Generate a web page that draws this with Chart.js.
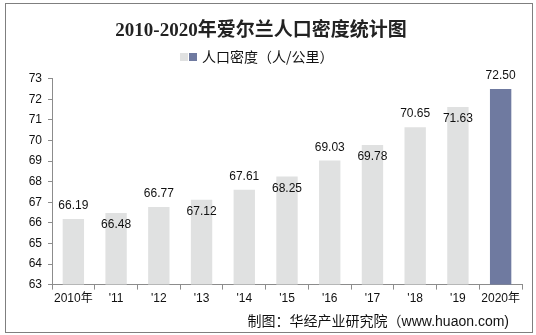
<!DOCTYPE html>
<html lang="zh">
<head>
<meta charset="UTF-8">
<title>2010-2020年爱尔兰人口密度统计图</title>
<script src="https://cdn.jsdelivr.net/npm/chart.js"></script>
<style>
  html, body { margin: 0; padding: 0; background: #fff; }
  #wrap { position: absolute; left: 0; top: 0; width: 536px; height: 335px; }
  #frame { position: absolute; left: 5px; top: 3px; width: 526px; height: 328px;
           border: 1px solid #7f7f7f; pointer-events: none; }
</style>
</head>
<body>
<div id="wrap"><canvas id="chart"></canvas></div>
<div id="frame"></div>
<script>
// data
const years = ["2010年", "'11", "'12", "'13", "'14", "'15", "'16", "'17", "'18", "'19", "2020年"];
const density = [66.19, 66.48, 66.77, 67.12, 67.61, 68.25, 69.03, 69.78, 70.65, 71.63, 72.50];
const seriesName = "人口密度（人/公里）";
const sourceNote = "制图：华经产业研究院（www.huaon.com)";

const grey = "#e0e1e1";
const blue = "#6f7aa0";
const barColors = density.map((_, i) => i === density.length - 1 ? blue : grey);

// values above / just under the top of the bars, alternating
const valueLabels = {
  id: "valueLabels",
  afterDatasetsDraw(chart) {
    const ctx = chart.ctx;
    const meta = chart.getDatasetMeta(0);
    ctx.save();
    ctx.font = "12px 'Liberation Sans', Arial, sans-serif";
    ctx.fillStyle = "#111";
    ctx.textAlign = "center";
    ctx.textBaseline = "middle";
    meta.data.forEach((bar, i) => {
      const y = i % 2 === 0 ? bar.y - 13 : bar.y + 12;
      ctx.fillText(density[i].toFixed(2), bar.x, y);
    });
    ctx.restore();
  }
};

// legend (two swatches + name) and source line
const notes = {
  id: "notes",
  afterDraw(chart) {
    const ctx = chart.ctx;
    ctx.save();
    ctx.fillStyle = grey;
    ctx.fillRect(180, 53, 8, 8);
    ctx.fillStyle = blue;
    ctx.fillRect(189, 53, 8, 8);
    ctx.fillStyle = "#111";
    ctx.font = "14px 'Noto Sans CJK SC', sans-serif";
    ctx.textBaseline = "middle";
    ctx.textAlign = "left";
    ctx.fillText(seriesName, 202, 57);
    ctx.font = "14px 'Liberation Sans', 'Noto Sans CJK SC', sans-serif";
    ctx.textAlign = "right";
    ctx.fillText(sourceNote, 509, 322);
    ctx.restore();
  }
};

new Chart(document.getElementById("chart"), {
  type: "bar",
  data: {
    labels: years,
    datasets: [{
      label: seriesName,
      data: density,
      backgroundColor: barColors,
      borderWidth: 0,
      categoryPercentage: 1,
      barPercentage: 0.5
    }]
  },
  options: {
    responsive: true,
    maintainAspectRatio: false,
    animation: false,
    layout: { padding: { top: 6, right: 14, bottom: 27, left: 0 } },
    scales: {
      x: {
        grid: { drawOnChartArea: false, tickLength: 5, color: "#8c8c8c", offset: true },
        border: { color: "#8c8c8c" },
        ticks: { color: "#111", font: { size: 12, family: "'Liberation Sans', 'Noto Sans CJK SC', sans-serif" }, padding: 2, maxRotation: 0, autoSkip: false }
      },
      y: {
        min: 63, max: 73,
        afterFit(scale) { scale.width = 52; },
        grid: { drawOnChartArea: false, tickLength: 4, color: "#8c8c8c" },
        border: { color: "#8c8c8c" },
        ticks: { stepSize: 1, color: "#111", font: { size: 12, family: "'Liberation Sans', Arial, sans-serif" }, padding: 6 }
      }
    },
    plugins: {
      title: {
        display: true,
        text: "2010-2020年爱尔兰人口密度统计图",
        color: "#222",
        font: { size: 19, weight: "bold", family: "'Liberation Serif', 'Noto Sans CJK SC', serif" },
        padding: { top: 14, bottom: 36 }
      },
      legend: { display: false },
      tooltip: { enabled: false }
    }
  },
  plugins: [valueLabels, notes]
});
</script>
</body>
</html>
